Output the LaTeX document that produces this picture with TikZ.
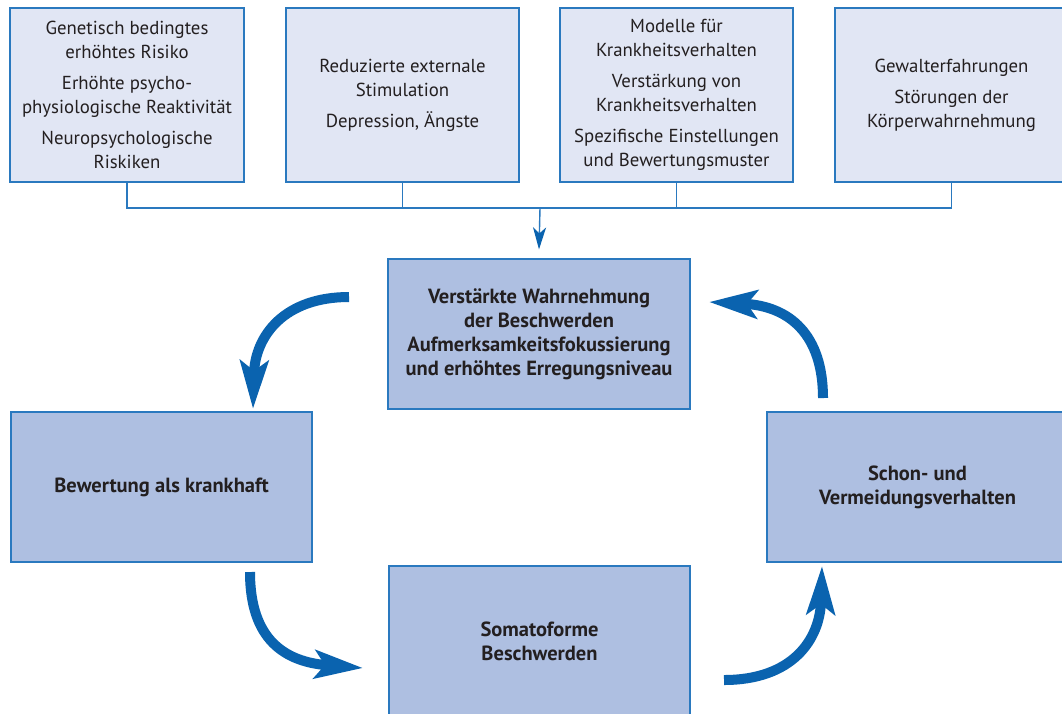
\documentclass[tikz,border=0pt]{standalone}
\usepackage{fontspec}
\setmainfont{PT Sans}
\usetikzlibrary{arrows.meta}
\definecolor{boxborder}{HTML}{2A79BF}
\definecolor{lightfill}{HTML}{E1E6F4}
\definecolor{darkfill}{HTML}{AEBFE1}
\definecolor{arrowblue}{HTML}{0A63AF}
\definecolor{textcol}{HTML}{231F20}
\tikzset{
  topbox/.style={draw=boxborder, line width=1.2pt, fill=lightfill, text=textcol,
    minimum width=233pt, minimum height=174pt, inner sep=0pt, align=center,
    font=\fontsize{18.8}{24}\selectfont},
  mainbox/.style={draw=boxborder, line width=1.2pt, fill=darkfill, text=textcol,
    minimum width=301pt, minimum height=150pt, inner sep=0pt, align=center,
    font=\fontsize{20.5}{24}\selectfont\bfseries},
  busline/.style={draw=boxborder, line width=1.4pt},
  thinarrow/.style={busline, -{Stealth[length=22pt,width=13pt,inset=6pt,color=arrowblue]}},
  bigarrow/.style={draw=arrowblue, line width=10pt,
    -{Stealth[length=48pt,width=28pt,inset=10pt]}}
}
\begin{document}
\begin{tikzpicture}[x=1pt,y=-1pt]
\clip (0,0) rectangle (1062,713);
\fill[white] (0,0) rectangle (1062,713);
% top boxes
\node[topbox, minimum width=234pt] (b1) at (127,95) {Genetisch bedingtes\\erhöhtes Risiko\\[7pt]Erhöhte psycho-\\physiologische Reaktivität\\[7pt]Neuropsychologische\\Riskiken};
\node[topbox] (b2) at (402.5,95) {Reduzierte externale\\Stimulation\\[7pt]Depression, Ängste};
\node[topbox] (b3) at (676.5,95) {Modelle für\\Krankheitsverhalten\\[7pt]Verstärkung von\\Krankheitsverhalten\\[7pt]Spezifische Einstellungen\\und Bewertungsmuster};
\node[topbox] (b4) at (951.5,95) {Gewalterfahrungen\\[7pt]Störungen der\\Körperwahrnehmung};
% main boxes
\node[mainbox, minimum width=302pt] (c) at (539,334) {Verstärkte Wahrnehmung\\der Beschwerden\\Aufmerksamkeitsfokussierung\\und erhöhtes Erregungsniveau};
\node[mainbox] (l) at (161.5,487) {Bewertung als krankhaft};
\node[mainbox] (r) at (917.5,487) {Schon- und\\Vermeidungsverhalten};
\node[mainbox] (s) at (539.5,641) {Somatoforme\\Beschwerden};
% bus
\coordinate (bus) at (540,208);
\draw[busline] (b1.south) |- (bus);
\draw[busline] (b4.south) |- (bus);
\draw[busline] (b2.south) -- (b2.south |- bus);
\draw[busline] (b3.south) -- (b3.south |- bus);
\draw[thinarrow] (bus) -- ([yshift=9pt]c.north);
% cycle arrows
\coordinate (a1s) at (349,297);
\coordinate (a1e) at (253,409);
\coordinate (a2s) at (250,572);
\coordinate (a2e) at (363,668);
\coordinate (a3s) at (724,680);
\coordinate (a3e) at (822,566);
\coordinate (a4s) at (823,398);
\coordinate (a4e) at (709,302);
\draw[bigarrow] (a1s) .. controls (285,297) and (255,335) .. (a1e);
\draw[bigarrow] (a2s) .. controls (250,640) and (285,662) .. (a2e);
\draw[bigarrow] (a3s) .. controls (792,680) and (820,640) .. (a3e);
\draw[bigarrow] (a4s) .. controls (823,335) and (790,306) .. (a4e);
\end{tikzpicture}
\end{document}
